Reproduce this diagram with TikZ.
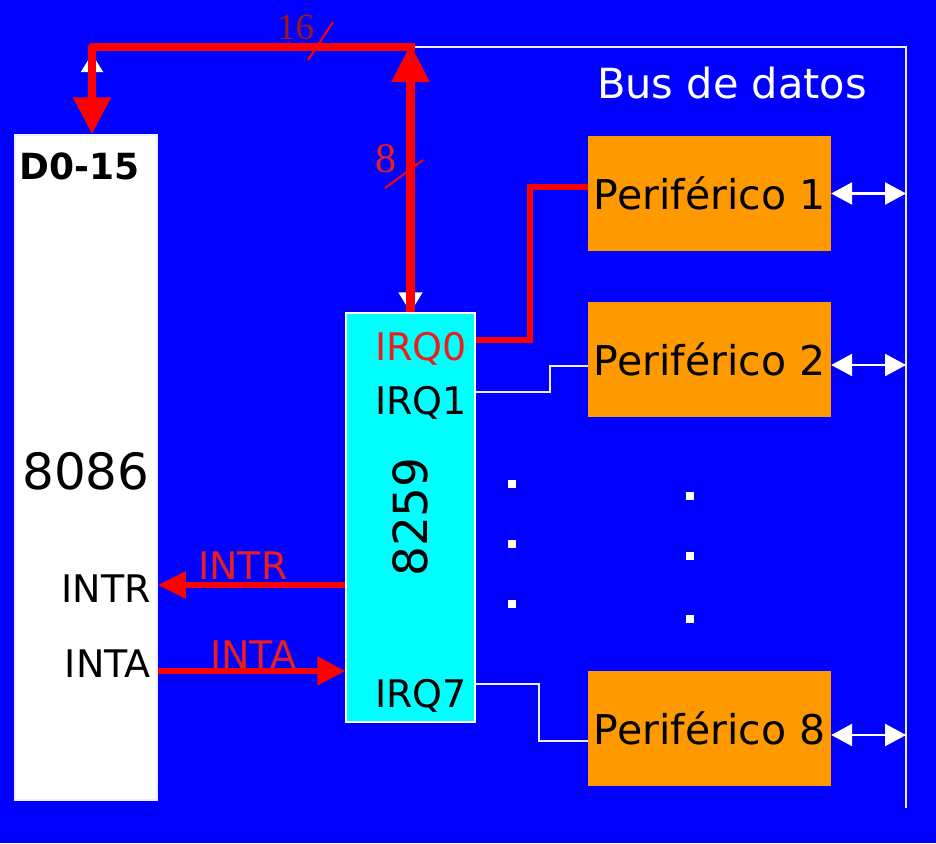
\documentclass[tikz,border=0pt]{standalone}
\usepackage{fontspec}
\setmainfont{DejaVu Sans}
\newfontfamily\numfont{Liberation Serif}
\usetikzlibrary{arrows.meta,calc}
\definecolor{bg}{RGB}{0,0,255}
\definecolor{cyanbox}{RGB}{0,255,255}
\definecolor{orng}{RGB}{255,153,0}
\definecolor{wline}{RGB}{238,238,255}
\definecolor{darkred}{RGB}{165,20,20}
\definecolor{lblred}{RGB}{235,30,30}
\begin{document}
\begin{tikzpicture}[x=1pt,y=-1pt,
  chipbox/.style={draw=wline, line width=1.5pt, inner sep=0pt},
  periph/.style={fill=orng, minimum width=243pt, minimum height=115pt, inner sep=0pt,
    font=\fontsize{41}{41}\selectfont},
  lbl/.style={inner sep=0pt, font=\fontsize{38}{38}\selectfont},
  redbus/.style={draw=red, line width=8.5pt},
  redsig/.style={draw=red, line width=5.5pt},
  wire/.style={draw=wline, line width=2pt},
  busarrow/.style={draw=white, line width=2.5pt, {Triangle[length=21pt,width=22pt]}-{Triangle[length=21pt,width=22pt]}},
  dotsq/.style={fill=white}
]
\fill[bg] (0,0) rectangle (936,843);
\useasboundingbox (0,0) rectangle (936,843);

% boxes
\node[chipbox, fill=white, minimum width=142pt, minimum height=665pt] (cpu) at (86,467.5) {};
\node[chipbox, draw=white, fill=cyanbox, minimum width=129pt, minimum height=409pt] (pic) at (410.5,517.5) {};
\node[periph] (p1) at (709.5,193.5) {Periférico 1};
\node[periph] (p2) at (709.5,359) {Periférico 2};
\node[periph] (p8) at (709.5,728) {Periférico 8};

% texts
\node[lbl, anchor=north west, font=\fontsize{36}{36}\selectfont\bfseries] (d015) at (19,153) {D0-15};
\node[lbl, font=\fontsize{50}{50}\selectfont] (t8086) at (86,471) {8086};
\node[lbl, anchor=east] (tintr) at (151,589) {INTR};
\node[lbl, anchor=east] (tinta) at (151,664) {INTA};
\node[lbl, anchor=base east, text=lblred] (q0) at (467,360) {IRQ0};
\node[lbl, anchor=base east] (q1) at (467,414) {IRQ1};
\node[lbl, anchor=base east] (q7) at (467,707) {IRQ7};
\node[lbl, rotate=90, font=\fontsize{47}{47}\selectfont] (t8259) at (410,517) {8259};
\node[lbl, anchor=base west, text=white, font=\fontsize{41.5}{41.5}\selectfont] (busl) at (597,98) {Bus de datos};
\node[lbl, anchor=base west, text=lblred] (lintr) at (198,579) {INTR};
\node[lbl, anchor=base west, text=lblred] (linta) at (210,668) {INTA};
\node[lbl, anchor=base west, text=darkred, font=\fontsize{37}{37}\selectfont\numfont] (n16) at (277,40) {16};
\node[lbl, anchor=base west, text=lblred, font=\fontsize{42}{42}\selectfont\numfont] (n8) at (375,172) {8};

% coordinates
\coordinate (busc) at (pic.north |- 0,47);
\coordinate (busl0) at (cpu.north -| 92,0);
\coordinate (busend) at (906,808);

% white data bus
\draw[wire, line width=2.5pt] (busc) -- (busend |- busc) -- (busend);
\draw[busarrow] (p1.east) -- (busend |- p1.east);
\draw[busarrow] ($(p2.east)+(0,6)$) -- ($(busend |- p2.east)+(0,6)$);
\draw[busarrow] ($(p8.east)+(0,7)$) -- ($(busend |- p8.east)+(0,7)$);

% white arrowheads under the red bus
\draw[draw=white, line width=2pt, -{Triangle[length=18pt,width=22pt]}] (92,110) -- (92,54);
\draw[draw=white, line width=2pt, -{Triangle[length=20pt,width=24pt]}] (410.5,260) -- (pic.north);

% red bus
\draw[redbus, -{Triangle[length=38pt,width=36pt]}] (pic.north) -- ($(busc)+(0,-3)$);
\draw[redbus, line join=round, -{Triangle[length=37pt,width=36pt]}] ($(busc)+(4,0)$) -- (92,47) -- (busl0);
\draw[red, line width=2pt] (333,22) -- (308,60);
\draw[red, line width=2pt] (423,160) -- (385,188);

% INTR / INTA
\draw[redsig, -{Triangle[length=28pt,width=26pt]}] (pic.west |- 0,585) -- (cpu.east |- 0,585);
\draw[redsig, -{Triangle[length=28pt,width=28pt]}] (cpu.east |- 0,671) -- (pic.west |- 0,671);

% IRQ lines
\draw[draw=red, line width=6pt, line join=miter] (pic.east |- 0,340) -- (530,340) -- (530,187) -- (p1.west |- 0,187);
\draw[wire] (pic.east |- 0,392) -- (550,392) -- (550,366) -- (p2.west |- 0,366);
\draw[wire] (pic.east |- 0,684) -- (539,684) -- (539,741) -- (p8.west |- 0,741);

% dots
\foreach \y in {484,544,604} \fill[dotsq] (508,\y-4) rectangle (516,\y+4);
\foreach \y in {496,556,619} \fill[dotsq] (686,\y-4) rectangle (694,\y+4);
\end{tikzpicture}
\end{document}
